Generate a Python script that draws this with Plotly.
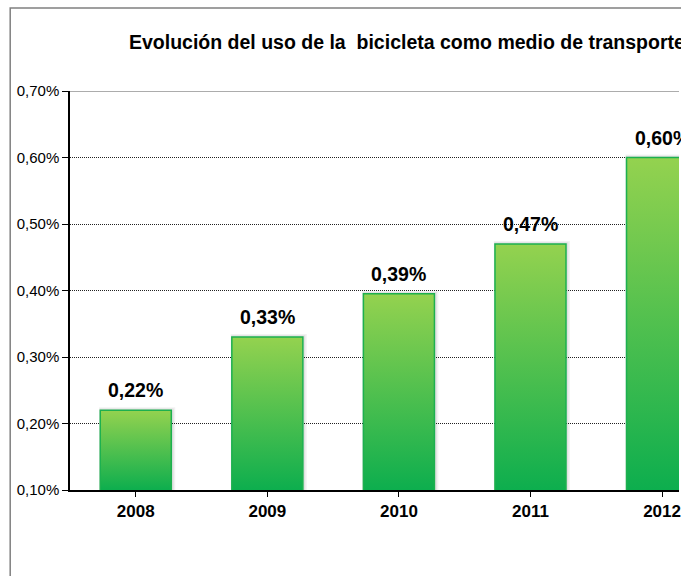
import plotly.graph_objects as go

years = ["2008", "2009", "2010", "2011", "2012"]
values = [0.0022, 0.0033, 0.00395, 0.0047, 0.0060]
labels = ["0,22%", "0,33%", "0,39%", "0,47%", "0,60%"]
title_text = "Evolución del uso de la  bicicleta como medio de transporte"
y_ticks = [0.001, 0.002, 0.003, 0.004, 0.005, 0.006, 0.007]

FONT = "Liberation Sans, Arial, sans-serif"
half = 0.27
base = 0.0

fig = go.Figure()
for i, v in enumerate(values):
    # soft shadow
    for k, a in [(0.03, 0.05), (0.018, 0.07)]:
        fig.add_trace(go.Scatter(
            x=[i - half - k * 0.3, i + half + k, i + half + k, i - half - k * 0.3, i - half - k * 0.3],
            y=[base, base, v + k * 0.0015, v + k * 0.0015, base],
            mode="lines", line=dict(width=0), fill="toself",
            fillcolor=f"rgba(0,0,0,{a})", hoverinfo="skip", showlegend=False))
    fig.add_trace(go.Scatter(
        x=[i - half, i + half, i + half, i - half, i - half],
        y=[base, base, v, v, base],
        mode="lines", line=dict(color="#1DB04F", width=1.5),
        fill="toself",
        fillgradient=dict(type="vertical", start=0.001, stop=v,
                          colorscale=[[0, "#0DAE4E"], [1, "#94D24F"]]),
        hoverinfo="skip", showlegend=False))

annotations = [dict(
    text=f"<b>{title_text}</b>", xref="paper", yref="paper",
    x=(127 - 70) / 611, y=(490 - 42) / 399, xanchor="left", yanchor="middle",
    showarrow=False, font=dict(family=FONT, size=19.5, color="black"))]
for i, (v, t) in enumerate(zip(values, labels)):
    annotations.append(dict(
        text=f"<b>{t}</b>", x=i, y=v, xref="x", yref="y",
        xanchor="center", yanchor="bottom", yshift=7, showarrow=False,
        font=dict(family=FONT, size=19.5, color="black")))

fig.update_layout(
    width=681, height=576,
    margin=dict(l=70, r=0, t=91, b=86),
    paper_bgcolor="white", plot_bgcolor="white",
    separators=",.",
    font=dict(family=FONT, color="black"),
    showlegend=False,
    annotations=annotations,
    shapes=[
        dict(type="rect", xref="paper", yref="paper",
             x0=(10 - 70) / 611, x1=1.3, y0=-0.4, y1=(490 - 8) / 399,
             line=dict(color="#808080", width=1.5), layer="below"),
        dict(type="line", xref="paper", yref="y", x0=0, x1=1, y0=0.007, y1=0.007,
             line=dict(color="#909090", width=1.5)),
    ],
)

fig.update_xaxes(
    range=[-0.5, -0.5 + 611 / 132],
    tickmode="array", tickvals=list(range(len(years))), ticktext=years,
    tickfont=dict(family=FONT, size=17, color="black", weight="bold"),
    ticklabeloverflow="allow",
    showline=True, linecolor="black", linewidth=1.5,
    ticks="outside", ticklen=5, tickcolor="black", tickson="boundaries",
    showgrid=False, zeroline=False, fixedrange=True,
)
fig.update_yaxes(
    range=[0.001, 0.007],
    tickvals=y_ticks, tickformat=".2%",
    tickfont=dict(family=FONT, size=15, color="black"),
    showline=True, linecolor="black", linewidth=1.5,
    ticks="outside", ticklen=6, tickcolor="black",
    showgrid=True, gridcolor="#222222", griddash="1px,1px", gridwidth=1,
    zeroline=False, fixedrange=True,
)

fig.write_html("out.html", config={"displayModeBar": False},
               post_script="document.body.style.margin='0';")
